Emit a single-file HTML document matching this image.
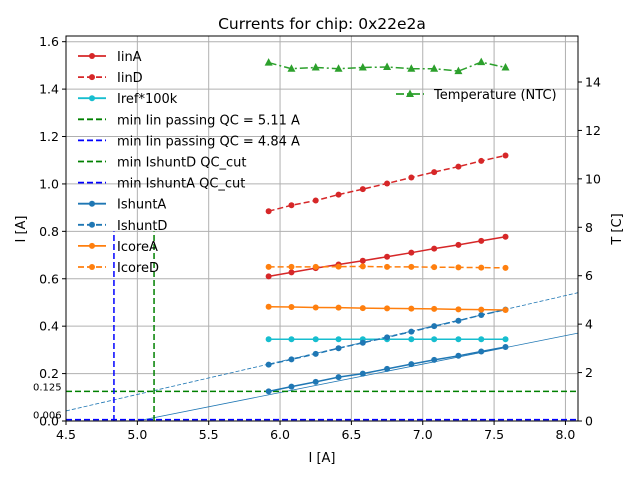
<!DOCTYPE html>
<html><head><meta charset="utf-8"><style>
body{margin:0;background:#fff;}
svg text{font-family:"DejaVu Sans","Liberation Sans",sans-serif;}
</style></head><body>
<svg id="chart" width="640" height="480" xmlns="http://www.w3.org/2000/svg"><defs><clipPath id="pc"><rect x="66" y="36" width="512" height="385"/></clipPath></defs></svg>
<script>
const xs=[5.92,6.08,6.25,6.41,6.58,6.75,6.92,7.08,7.25,7.41,7.58];
const iinA=[0.61,0.627,0.645,0.66,0.676,0.693,0.71,0.727,0.743,0.76,0.777];
const iinD=[0.885,0.91,0.93,0.955,0.978,1.002,1.027,1.05,1.073,1.097,1.12];
const irefV=[0.345,0.345,0.345,0.345,0.345,0.345,0.345,0.345,0.345,0.345,0.345];
const ishuntA=[0.125,0.145,0.165,0.185,0.2,0.22,0.24,0.258,0.275,0.293,0.312];
const ishuntD=[0.238,0.26,0.283,0.307,0.33,0.353,0.377,0.4,0.423,0.447,0.47];
const icoreA=[0.482,0.481,0.479,0.478,0.476,0.475,0.474,0.473,0.471,0.47,0.468];
const icoreD=[0.65,0.65,0.65,0.651,0.652,0.65,0.65,0.649,0.648,0.647,0.646];
const temps=[14.8,14.55,14.6,14.55,14.6,14.62,14.55,14.55,14.45,14.82,14.6];
const fitA=[0.12,-0.6];
const fitD=[0.139,-0.583];
const xTicks=[4.5,5.0,5.5,6.0,6.5,7.0,7.5,8.0];
const yTicks=[0.0,0.2,0.4,0.6,0.8,1.0,1.2,1.4,1.6];
const tTicks=[0,2,4,6,8,10,12,14];
const hLines=[0.125,0.006];
const vLines=[5.117,4.836];

const L=66,R=578,T=36,B=421;
const xMin=4.5,xMax=8.088,yMax=1.624,tMax=15.9;
const X=v=>L+(v-xMin)/(xMax-xMin)*(R-L);
const Y=v=>B-v/yMax*(B-T);
const YT=v=>B-v/tMax*(B-T);
const svg=document.getElementById('chart');
const NS='http://www.w3.org/2000/svg';
function mk(tag,attrs,parent){const e=document.createElementNS(NS,tag);for(const k in attrs)e.setAttribute(k,attrs[k]);(parent||svg).appendChild(e);return e;}
function txt(s,x,y,attrs,parent){const e=mk('text',Object.assign({x:x,y:y,'font-size':13,fill:'#000'},attrs||{}),parent);e.textContent=s;return e;}

const grid=mk('g',{});


xTicks.forEach(v=>mk('line',{x1:X(v),x2:X(v),y1:T,y2:B,stroke:'#b0b0b0','stroke-width':1},grid));
yTicks.forEach(v=>mk('line',{x1:L,x2:R,y1:Y(v),y2:Y(v),stroke:'#b0b0b0','stroke-width':1},grid));

const plot=mk('g',{'clip-path':'url(#pc)'});



function series(name,vals,color,dash,marker,yf){
  const g=mk('g',{},plot);
  
  
  const pts=xs.map((x,i)=>X(x)+','+yf(vals[i])).join(' ');
  mk('polyline',{points:pts,fill:'none',stroke:color,'stroke-width':1.5,'stroke-dasharray':dash||''},g);
  xs.forEach((x,i)=>{
    if(marker==='tri'){const cx=X(x),cy=yf(vals[i]);mk('polygon',{points:`${cx},${cy-4.5} ${cx-4},${cy+3} ${cx+4},${cy+3}`,fill:color},g);}
    else mk('circle',{cx:X(x),cy:yf(vals[i]),r:3,fill:color},g);
  });
}
function fit(name,f,dash){
  const l=mk('line',{x1:X(xMin),y1:Y(f[0]*xMin+f[1]),x2:X(xMax),y2:Y(f[0]*xMax+f[1]),stroke:'#1f77b4','stroke-width':0.8,'stroke-dasharray':dash},plot);
  
  
}
fit('ishunta-fit',fitA,'');
fit('ishuntd-fit',fitD,'4,2');
const hl1=mk('line',{x1:L,x2:R,y1:Y(hLines[0]),y2:Y(hLines[0]),stroke:'green','stroke-width':1.5,'stroke-dasharray':'6,3'},plot);

const hl2=mk('line',{x1:L,x2:R,y1:Y(hLines[1]),y2:Y(hLines[1]),stroke:'blue','stroke-width':1.5,'stroke-dasharray':'6,3'},plot);

const vl1=mk('line',{x1:X(vLines[0]),x2:X(vLines[0]),y1:B,y2:Y(0.8),stroke:'green','stroke-width':1.5,'stroke-dasharray':'6,3'},plot);

const vl2=mk('line',{x1:X(vLines[1]),x2:X(vLines[1]),y1:B,y2:Y(0.8),stroke:'blue','stroke-width':1.5,'stroke-dasharray':'6,3'},plot);

txt('0.125',33,Y(hLines[0])-1,{'font-size':10});
txt('0.006',33,Y(hLines[1])-1,{'font-size':10});

series('iina-series',iinA,'#d62728','',0,Y);
series('iind-series',iinD,'#d62728','6,3',0,Y);
series('iref-series',irefV,'#17becf','',0,Y);
series('ishunta-series',ishuntA,'#1f77b4','',0,Y);
series('ishuntd-series',ishuntD,'#1f77b4','6,3',0,Y);
series('icorea-series',icoreA,'#ff7f0e','',0,Y);
series('icored-series',icoreD,'#ff7f0e','6,3',0,Y);
series('temperature-series',temps,'#2ca02c','8,3,2,3','tri',YT);

const fr=mk('rect',{x:L,y:T,width:R-L,height:B-T,fill:'none',stroke:'#000','stroke-width':1});

xTicks.forEach(v=>{mk('line',{x1:X(v),x2:X(v),y1:B,y2:B+4,stroke:'#000'});txt(v.toFixed(1),X(v),B+18,{'text-anchor':'middle','font-size':12.5});});
yTicks.forEach(v=>{mk('line',{x1:L-4,x2:L,y1:Y(v),y2:Y(v),stroke:'#000'});txt(v.toFixed(1),L-7,Y(v)+4.5,{'text-anchor':'end','font-size':12.5});});
tTicks.forEach(v=>{mk('line',{x1:R,x2:R+4,y1:YT(v),y2:YT(v),stroke:'#000'});txt(String(v),R+7,YT(v)+4.5,{'font-size':12.5});});
txt('Currents for chip: 0x22e2a',322,29,{'text-anchor':'middle','font-size':15.5});
txt('I [A]',322,462,{'text-anchor':'middle'});
txt('I [A]',25,229,{'text-anchor':'middle',transform:'rotate(-90 25 229)'});
txt('T [C]',621,229,{'text-anchor':'middle',transform:'rotate(-90 621 229)'});

const leg=[['IinA','#d62728','',1],['IinD','#d62728','6,3',1],['Iref*100k','#17becf','',1],['min Iin passing QC = 5.11 A','green','6,3',0],['min Iin passing QC = 4.84 A','blue','6,3',0],['min IshuntD QC_cut','green','6,3',0],['min IshuntA QC_cut','blue','6,3',0],['IshuntA','#1f77b4','',1],['IshuntD','#1f77b4','6,3',1],['IcoreA','#ff7f0e','',1],['IcoreD','#ff7f0e','6,3',1]];
leg.forEach((e,i)=>{
  const y=56+i*21.1;
  const g=mk('g',{});
  
  
  mk('line',{x1:78,x2:106,y1:y,y2:y,stroke:e[1],'stroke-width':1.8,'stroke-dasharray':e[2]},g);
  if(e[3])mk('circle',{cx:92,cy:y,r:3,fill:e[1]},g);
  txt(e[0],117,y+5,{},g);
});
const tg=mk('g',{});


mk('line',{x1:396,x2:424,y1:94,y2:94,stroke:'#2ca02c','stroke-width':1.8,'stroke-dasharray':'8,3,2,3'},tg);
mk('polygon',{points:'410,89.5 406,97 414,97',fill:'#2ca02c'},tg);
txt('Temperature (NTC)',434,99,{},tg);
</script>
</body></html>
